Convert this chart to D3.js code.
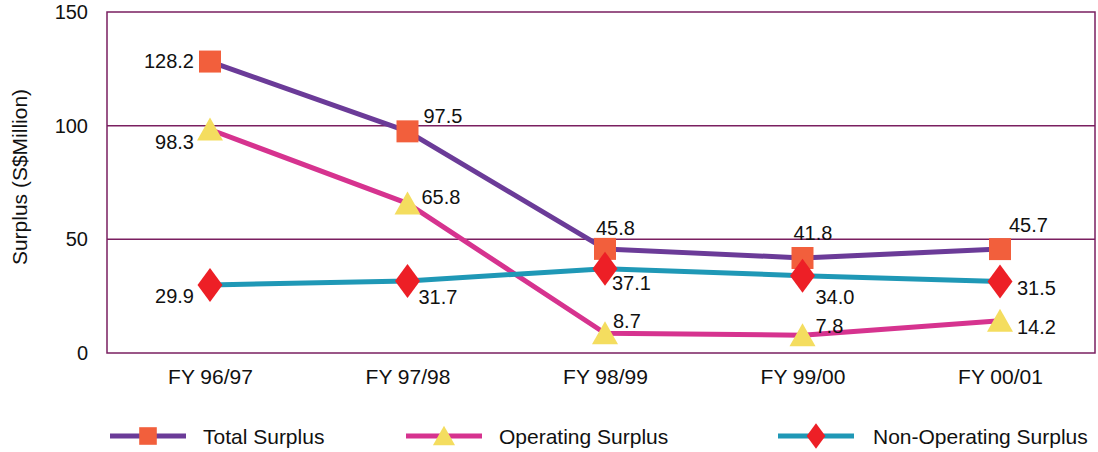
<!DOCTYPE html>
<html><head><meta charset="utf-8">
<script src="https://cdn.jsdelivr.net/npm/d3@7"></script>
<style>body{margin:0;background:#fff}svg{display:block;font-family:"Liberation Sans",Arial,sans-serif}</style>
</head><body><svg id="c" width="1098" height="452"></svg>
<script>
const categories = ["FY 96/97","FY 97/98","FY 98/99","FY 99/00","FY 00/01"];
const totalSurplus = [128.2, 97.5, 45.8, 41.8, 45.7];
const operatingSurplus = [98.3, 65.8, 8.7, 7.8, 14.2];
const nonOperatingSurplus = [29.9, 31.7, 37.1, 34.0, 31.5];
const yTicks = [0, 50, 100, 150];
const seriesNames = ["Total Surplus","Operating Surplus","Non-Operating Surplus"];

// label placement (style): [dx, dy, anchor]
const labelPos = [
  [[-16,-1,"end"],[16,-15,"start"],[-9,-21,"start"],[-9,-25,"start"],[9,-24,"start"]],
  [[-16,12,"end"],[14,-6,"start"],[8,-12,"start"],[13,-9,"start"],[17,6,"start"]],
  [[-16,11,"end"],[11,16,"start"],[7,14,"start"],[13,21,"start"],[17,7,"start"]]
];

const svg = d3.select("#c");
const L=107, R=1095, T=12, B=353;
const x = d3.scalePoint().domain(categories).range([210,1000]);
const y = d3.scaleLinear().domain([0,150]).range([B,T]);
const gridC = "#7a1f60";

svg.append("g").selectAll("line").data(yTicks.filter(d=>d>0&&d<150)).join("line")
  .attr("x1",L).attr("x2",R).attr("y1",d=>y(d)).attr("y2",d=>y(d))
  .attr("stroke",gridC).attr("stroke-width",1.5);
svg.append("rect").attr("x",L).attr("y",T).attr("width",R-L).attr("height",B-T)
  .attr("fill","none").attr("stroke",gridC).attr("stroke-width",1.5);

const ya = svg.append("g").attr("transform",`translate(${L},0)`)
  .call(d3.axisLeft(y).tickValues(yTicks).tickSize(0).tickPadding(19));
ya.select(".domain").remove();
ya.selectAll("text").attr("font-size",20).attr("fill","#111").attr("font-family","Liberation Sans, Arial, sans-serif");

const xa = svg.append("g").attr("transform",`translate(0,${B})`)
  .call(d3.axisBottom(x).tickSize(0).tickPadding(16));
xa.select(".domain").remove();
xa.selectAll("text").attr("font-size",21).attr("fill","#111").attr("font-family","Liberation Sans, Arial, sans-serif");

svg.append("text").attr("transform","translate(19,177) rotate(-90)")
  .attr("text-anchor","middle").attr("dominant-baseline","central").attr("font-size",21).attr("fill","#111")
  .text("Surplus (S$Million)");

const sq = d3.symbol().type(d3.symbolSquare).size(22*22)();
const tri = "M0,-12L13,11L-13,11Z";
const dia = "M0,-17L12.5,0L0,17L-12.5,0Z";
const series = [
  {name:seriesNames[0], vals: totalSurplus, line:"#6b3b98", fill:"#f25f3c", path:sq},
  {name:seriesNames[1], vals: operatingSurplus, line:"#d6338f", fill:"#f4dd5f", path:tri},
  {name:seriesNames[2], vals: nonOperatingSurplus, line:"#1f98b6", fill:"#ed1f26", path:dia}
];
const lineGen = d3.line().x((d,i)=>x(categories[i])).y(d=>y(d));
[0,1,2].forEach(k=>{
  const s=series[k];
  svg.append("path").datum(s.vals).attr("d",lineGen).attr("fill","none")
    .attr("stroke",s.line).attr("stroke-width",5).attr("stroke-linejoin","round");
});
[0,1,2].forEach(k=>{
  const s=series[k];
  svg.append("g").selectAll("path").data(s.vals).join("path")
    .attr("d",s.path).attr("fill",s.fill)
    .attr("transform",(d,i)=>`translate(${x(categories[i])},${y(d)})`);
});
series.forEach((s,k)=>{
  svg.append("g").selectAll("text").data(s.vals).join("text")
    .attr("x",(d,i)=>x(categories[i])+labelPos[k][i][0])
    .attr("y",(d,i)=>y(d)+labelPos[k][i][1])
    .attr("text-anchor",(d,i)=>labelPos[k][i][2])
    .attr("dominant-baseline","central")
    .attr("font-size",20).attr("fill","#111")
    .text(d=>d.toFixed(1));
});

const legX = [110, 406, 778];
series.forEach((s,k)=>{
  const g = svg.append("g").attr("transform",`translate(${legX[k]},436)`);
  g.append("line").attr("x1",0).attr("x2",76).attr("stroke",s.line).attr("stroke-width",5);
  const sc = k===0?0.8:(k===1?0.85:0.75);
  g.append("path").attr("d",s.path).attr("fill",s.fill).attr("transform",`translate(38,0) scale(${sc})`);
  g.append("text").attr("x",k===2?95:93).attr("y",0).attr("dominant-baseline","central")
    .attr("font-size",21).attr("fill","#111").text(s.name);
});
</script></body></html>
